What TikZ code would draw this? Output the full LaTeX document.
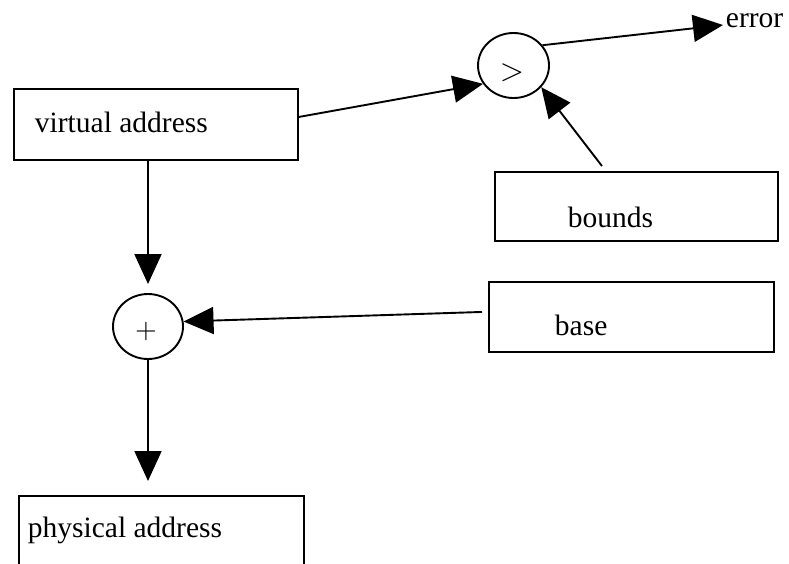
\documentclass[tikz,border=0pt]{standalone}
\usepackage{graphicx}
\usepackage{fontspec}
\setmainfont{Liberation Serif}
\usetikzlibrary{arrows.meta,shapes.geometric}
\begin{document}
\begin{tikzpicture}[x=1pt,y=-1pt, line width=1.9pt,
  box/.style={draw, rectangle, inner sep=0pt, anchor=north west},
  lbl/.style={anchor=base west, inner sep=0pt, font=\fontsize{29.5}{32}\selectfont},
  op/.style={draw, ellipse, inner sep=0pt},
  arr/.style={-{Triangle[length=30pt,width=27pt]}}]
\useasboundingbox (0,0) rectangle (789,563);
\clip (0,0) rectangle (789,563);
% boxes
\node[box, minimum width=284pt, minimum height=71pt] (vbox) at (13,88) {};
\node[box, minimum width=283pt, minimum height=69pt] (bbox) at (494,171) {};
\node[box, minimum width=285pt, minimum height=70pt] (basebox) at (488,281) {};
\node[box, minimum width=285pt, minimum height=80pt] (phys) at (18,495) {};
% labels
\node[lbl] (vtext) at (34,132) {virtual address};
\node[lbl] (btext) at (567,227) {bounds};
\node[lbl] (basetext) at (554,335) {base};
\node[lbl] (ptext) at (27,537) {physical address};
\node[lbl] (err) at (725,27) {error};
% operators
\node[op, minimum width=71pt, minimum height=65pt] (gt) at (513.5,65.5) {};
\node[op, minimum width=70pt, minimum height=65pt] (plus) at (148,326.5) {};
\node[inner sep=0pt] (gtsym) at (512,73) {\scalebox{3.1}{$>$}};
\node[inner sep=0pt] (plussym) at (146,331) {\scalebox{2.8}{$+$}};
% connectors
\draw[arr] ([yshift=7.5pt]vbox.east) -- (gt.211);
\draw[arr] ([xshift=-34.5pt,yshift=5pt]bbox.north) -- (gt.322);
\draw[arr] (gt.35) -- ([xshift=-2pt,yshift=2pt]err.base west);
\draw[arr, shorten >=9pt] (vbox.south -| plus.north) -- (plus.north);
\draw[arr] ([xshift=-6pt,yshift=5pt]basebox.west) -- (plus.8);
\draw[arr, shorten >=14pt] (plus.south) -- (phys.north -| plus.south);
\end{tikzpicture}
\end{document}
